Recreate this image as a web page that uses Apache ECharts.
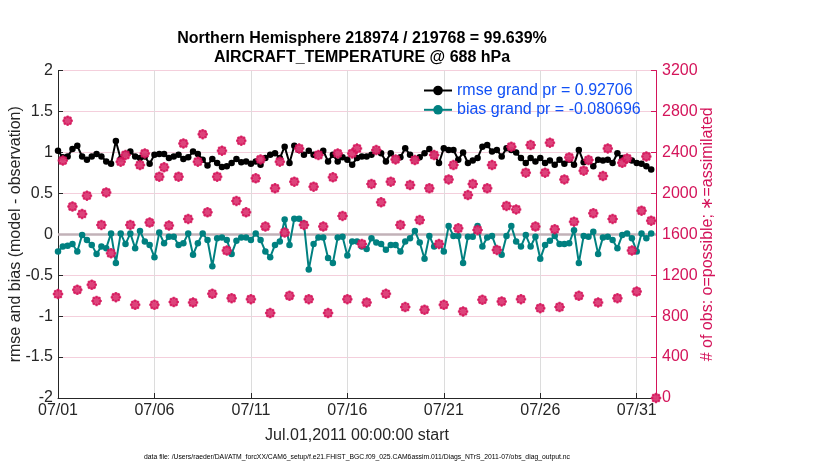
<!DOCTYPE html>
<html><head><meta charset="utf-8">
<script src="https://cdn.jsdelivr.net/npm/echarts@6/dist/echarts.min.js"></script>
<style>html,body{margin:0;padding:0;background:#fff}#c{width:830px;height:470px}</style>
</head><body><div id="c"></div>
<script>
// ---- data (6-hourly bins starting Jul.01,2011 00:00) ----
const xTickLabels = ['07/01','07/06','07/11','07/16','07/21','07/26','07/31'];
const leftTicks = [-2,-1.5,-1,-0.5,0,0.5,1,1.5,2];
const rightTicks = [0,400,800,1200,1600,2000,2400,2800,3200];
const rmseName = 'rmse grand pr = 0.92706';
const biasName = 'bias grand pr = -0.080696';
const rmse = [
1.02,0.94,0.95,1.04,1.08,0.95,0.91,0.95,0.98,0.95,0.89,0.86,1.14,0.92,0.98,1.01,0.95,0.93,0.95,0.86,
0.97,0.98,0.98,0.93,0.95,0.97,0.92,0.94,1.01,0.98,0.91,0.84,0.92,0.87,0.82,0.83,0.87,0.92,0.88,0.89,
0.86,0.89,0.85,0.93,0.97,0.99,0.93,1.07,0.87,1.08,1.03,0.97,1.02,0.97,0.98,1.02,0.89,0.97,0.89,0.94,
0.91,0.85,0.93,0.95,0.95,0.97,1.02,0.99,0.89,0.99,0.91,0.94,1.05,0.97,0.92,0.94,0.99,1.04,0.97,0.87,
1.05,1.03,1.03,0.91,1.00,0.87,0.90,0.93,1.07,1.09,1.01,1.03,0.95,1.05,1.03,1.00,0.93,0.87,0.93,0.89,
0.93,0.87,0.90,0.85,0.91,0.86,0.91,0.85,1.03,0.88,0.90,0.83,0.91,0.90,0.91,0.87,0.99,0.93,0.92,0.90,
0.87,0.86,0.83,0.79];
const bias = [
-0.21,-0.15,-0.14,-0.12,-0.21,-0.01,-0.07,-0.13,-0.24,-0.15,-0.17,0.01,-0.35,0.01,-0.12,0.01,-0.17,0.04,-0.09,-0.13,
-0.28,0.02,-0.11,-0.03,-0.03,-0.13,-0.11,0.01,-0.25,-0.11,0.01,-0.07,-0.39,-0.05,-0.04,-0.07,-0.24,-0.08,-0.04,-0.04,
-0.07,0.01,-0.07,-0.21,-0.28,-0.13,-0.09,0.18,-0.13,0.19,0.19,0.13,-0.43,-0.12,-0.04,-0.04,-0.29,-0.35,-0.04,-0.03,
-0.26,-0.09,-0.09,-0.15,-0.18,-0.05,-0.10,-0.12,-0.19,-0.13,-0.13,-0.21,-0.09,-0.05,0.04,-0.10,-0.30,-0.02,-0.15,-0.12,
-0.21,0.10,-0.02,-0.02,-0.35,-0.03,-0.03,0.10,-0.15,-0.04,-0.02,-0.18,-0.25,-0.02,0.10,-0.09,-0.15,-0.01,-0.15,-0.03,
-0.30,-0.13,-0.08,-0.02,-0.12,-0.12,-0.11,0.05,-0.35,-0.02,-0.03,0.03,-0.24,-0.04,-0.03,-0.07,-0.17,-0.01,0.01,-0.05,
-0.21,0.01,-0.05,0.01];
const obsCount = [
1015,2320,2709,1870,1057,1798,1977,1106,949,1691,2009,1414,985,2309,2374,1691,910,2276,2390,1714,
910,2162,2254,1685,937,2162,2487,1749,933,2309,2578,1814,1018,2162,2416,1441,975,1925,2514,1814,
966,2146,2331,1675,830,2049,2309,1616,998,2114,2438,1691,966,2065,2374,1675,830,2156,2390,1779,
966,2390,2438,1505,933,2091,2422,1912,1018,2114,2331,1691,888,2081,2325,1739,862,2049,2374,1505,
910,2136,2276,1658,846,1983,2091,1642,959,2049,2276,1447,943,1876,2455,1843,966,2202,2471,1675,
878,2202,2494,1649,888,2136,2351,1723,998,2221,2325,1805,933,2169,2438,1749,975,2298,2341,1441,
1040,1830,2360,1733,0];
const binsPerDay = 4;

const toXY = arr => arr.map((v, i) => [i / binsPerDay, v]);
const FONT = '"Liberation Sans", Arial, Helvetica, sans-serif';
const MAG = '#d4145a';
const TEAL = '#008080';
const AX = '#262626';
const asterisk = 'path://M5,0L5,10M0,5L10,5M1.46,1.46L8.54,8.54M8.54,1.46L1.46,8.54';

const chart = echarts.init(document.getElementById('c'));
chart.setOption({
  backgroundColor: '#fff',
  animation: false,
  title: {
    text: 'Northern Hemisphere 218974 / 219768 = 99.639%\nAIRCRAFT_TEMPERATURE @ 688 hPa',
    left: 357, top: 24, textAlign: 'center',
    textStyle: { fontFamily: FONT, fontSize: 16, fontWeight: 'bold', color: '#000', lineHeight: 19 }
  },
  grid: { left: 58, right: 174, top: 70.5, bottom: 72, containLabel: false, outerBoundsMode: 'none' },
  legend: {
    data: [rmseName, biasName],
    orient: 'vertical', left: 418, top: 77,
    itemWidth: 28, itemHeight: 12, itemGap: 2.3,
    textStyle: { fontFamily: FONT, fontSize: 16, color: '#1150f5', lineHeight: 17 },
    selectedMode: false
  },
  xAxis: {
    type: 'value', min: 0, max: 31, interval: 5,
    name: 'Jul.01,2011 00:00:00 start', nameLocation: 'middle', nameGap: 30, nameMoveOverlap: false,
    nameTextStyle: { fontFamily: FONT, fontSize: 16, color: AX },
    axisLine: { show: true, onZero: false, lineStyle: { color: AX, width: 1 } },
    axisTick: { show: true, inside: true, length: 5, lineStyle: { color: AX } },
    axisLabel: { fontFamily: FONT, fontSize: 16, color: AX, margin: 5,
      formatter: v => xTickLabels[Math.round(v / 5)] || '' , showMaxLabel: false },
    splitLine: { show: true, lineStyle: { color: '#dcdcdc', width: 1 } }
  },
  yAxis: [{
    type: 'value', min: -2, max: 2, interval: 0.5, position: 'left',
    name: 'rmse and bias (model - observation)', nameLocation: 'middle', nameGap: 34, nameMoveOverlap: false,
    nameTextStyle: { fontFamily: FONT, fontSize: 16, color: AX },
    axisLine: { show: true, lineStyle: { color: AX, width: 1 } },
    axisTick: { show: true, inside: true, length: 5, lineStyle: { color: AX } },
    axisLabel: { fontFamily: FONT, fontSize: 16, color: AX, margin: 5,
      formatter: v => { const t = leftTicks.find(x => Math.abs(x - v) < 1e-9); return t === undefined ? '' : String(t); } },
    splitLine: { show: false }
  }, {
    type: 'value', min: 0, max: 3200, interval: 400, position: 'right',
    name: '# of obs: o=possible; \u2217=assimilated', nameLocation: 'middle', nameGap: 44, nameRotate: 90, nameMoveOverlap: false,
    nameTextStyle: { fontFamily: FONT, fontSize: 16, color: MAG },
    axisLine: { show: true, lineStyle: { color: MAG, width: 1 } },
    axisTick: { show: true, inside: true, length: 5, lineStyle: { color: MAG } },
    axisLabel: { fontFamily: FONT, fontSize: 16, color: MAG, margin: 6,
      formatter: v => { const t = rightTicks.find(x => Math.abs(x - v) < 1e-6); return t === undefined ? '' : String(t); } },
    splitLine: { show: true, lineStyle: { color: '#f4cfdc', width: 1 } }
  }],
  series: [
    {
      name: rmseName, type: 'line', yAxisIndex: 0, data: toXY(rmse),
      symbol: 'circle', symbolSize: 6.5, color: '#000',
      lineStyle: { color: '#000', width: 2 }, itemStyle: { color: '#000' }, z: 3
    },
    {
      name: biasName, type: 'line', yAxisIndex: 0, data: toXY(bias),
      symbol: 'circle', symbolSize: 6.5, color: TEAL,
      lineStyle: { color: TEAL, width: 2 }, itemStyle: { color: TEAL }, z: 3,
      markLine: {
        silent: true, symbol: 'none', label: { show: false }, z: 1,
        lineStyle: { color: '#c2b2b8', width: 2.5, type: 'solid' },
        data: [{ yAxis: 0 }]
      }
    },
    {
      name: 'possible', type: 'scatter', yAxisIndex: 1, data: toXY(obsCount),
      symbol: 'emptyCircle', symbolSize: 7.5, clip: false,
      itemStyle: { color: MAG, borderColor: MAG, borderWidth: 2.2 }, z: 4
    },
    {
      name: 'assimilated', type: 'scatter', yAxisIndex: 1, data: toXY(obsCount),
      symbol: asterisk, symbolSize: 10.5, clip: false,
      itemStyle: { color: MAG, borderColor: MAG, borderWidth: 2 }, z: 4
    }
  ],
  graphic: [{
    type: 'text', x: 357, y: 457,
    style: {
      text: 'data file: /Users/raeder/DAI/ATM_forcXX/CAM6_setup/f.e21.FHIST_BGC.f09_025.CAM6assim.011/Diags_NTrS_2011-07/obs_diag_output.nc',
      font: '6.8px ' + FONT, fill: '#000', textAlign: 'center', textVerticalAlign: 'middle'
    }
  }]
});
</script>
</body></html>
